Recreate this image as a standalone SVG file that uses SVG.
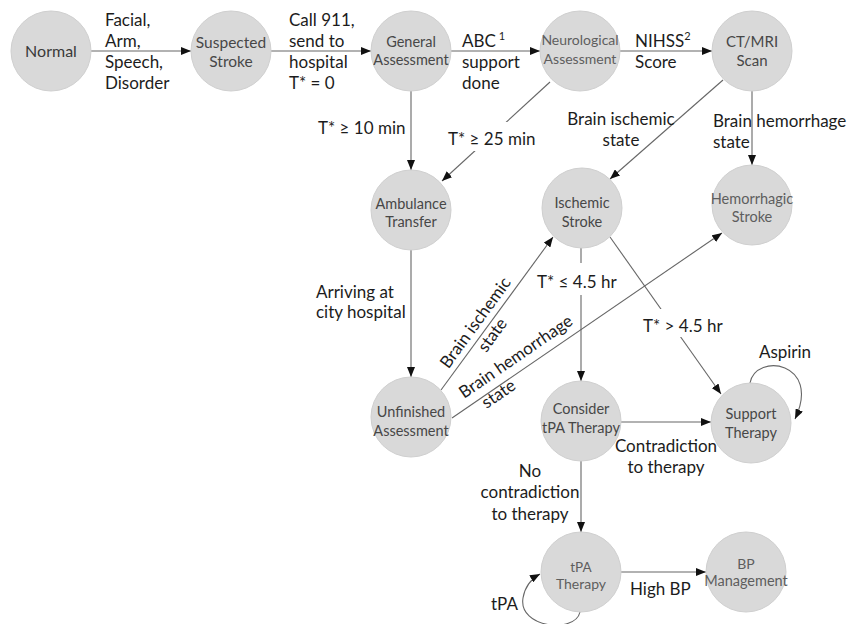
<svg xmlns="http://www.w3.org/2000/svg" width="859" height="624" viewBox="0 0 859 624">
  <style>
    .node circle { fill: #d9d9d9; stroke: #cfcfcf; stroke-width: 1; }
    .node text { font-family: Lato, "Liberation Sans", sans-serif; font-size: 14.5px; fill: #474747; text-anchor: middle; }
    .node text.light { fill: #5e5e5e; }
    .edge { fill: none; stroke: #666; stroke-width: 1.1; marker-end: url(#arrow); }
    .lbl { font-family: Lato, "Liberation Sans", sans-serif; font-size: 17px; fill: #1c1c1c; }
    .mid { text-anchor: middle; }
    .bg { fill: #fff; }
    .sup { font-size: 11px; }
  </style>
  <defs>
    <marker id="arrow" viewBox="0 0 10 8" refX="10" refY="4" markerWidth="10" markerHeight="8" markerUnits="userSpaceOnUse" orient="auto">
      <path d="M0,0 L10,4 L0,8 z" fill="#111"/>
    </marker>
  </defs>
  <rect width="859" height="624" fill="#fff"/>

  <!-- connectors -->
  <g id="connectors">
    <line class="edge" x1="91" y1="51" x2="191" y2="51"/>
    <line class="edge" x1="271" y1="51" x2="371" y2="51"/>
    <line class="edge" x1="451" y1="51" x2="540" y2="51"/>
    <line class="edge" x1="620" y1="51" x2="712" y2="51"/>
    <line class="edge" x1="411" y1="91" x2="411" y2="170"/>
    <line class="edge" x1="550" y1="82" x2="442" y2="181"/>
    <line class="edge" x1="723" y1="80" x2="610" y2="179"/>
    <line class="edge" x1="752" y1="91" x2="752" y2="165"/>
    <line class="edge" x1="411" y1="250" x2="411" y2="377"/>
    <line class="edge" x1="441" y1="390" x2="553" y2="237"/>
    <line class="edge" x1="452" y1="418" x2="722" y2="233"/>
    <line class="edge" x1="581" y1="248" x2="581" y2="381"/>
    <line class="edge" x1="610" y1="237" x2="721" y2="394"/>
    <line class="edge" x1="621" y1="422" x2="711" y2="422"/>
    <line class="edge" x1="581" y1="461" x2="581" y2="532"/>
    <line class="edge" x1="621" y1="572" x2="706" y2="572"/>
    <path class="edge" d="M750,383 C756,352 822,362 795,419"/>
    <path class="edge" d="M580,612 C575,634 518,628 523,598 C525,586 531,579 540,574"/>
  </g>

  <!-- connector labels -->
  <g id="labels">
    <text class="lbl" x="105" y="26">Facial,</text>
    <text class="lbl" x="105" y="47">Arm,</text>
    <text class="lbl" x="105" y="68">Speech,</text>
    <text class="lbl" x="105" y="89">Disorder</text>

    <text class="lbl" x="289" y="26">Call 911,</text>
    <text class="lbl" x="289" y="47">send to</text>
    <text class="lbl" x="289" y="68">hospital</text>
    <text class="lbl" x="289" y="89">T* = 0</text>

    <text class="lbl" x="462" y="47">ABC<tspan class="sup" dx="3" dy="-7">1</tspan></text>
    <text class="lbl" x="462" y="68">support</text>
    <text class="lbl" x="462" y="89">done</text>

    <text class="lbl" x="635" y="47">NIHSS<tspan class="sup" dy="-7">2</tspan></text>
    <text class="lbl" x="635" y="68">Score</text>

    <text class="lbl" x="318" y="134">T* ≥ 10 min</text>

    <rect class="bg" x="445" y="122" width="92" height="29"/>
    <text class="lbl" x="448" y="145">T* ≥ 25 min</text>

    <text class="lbl mid" x="621" y="125">Brain ischemic</text>
    <text class="lbl mid" x="621" y="146">state</text>

    <text class="lbl" x="713" y="127">Brain hemorrhage</text>
    <text class="lbl" x="713" y="148">state</text>

    <text class="lbl" x="316" y="298">Arriving at</text>
    <text class="lbl" x="316" y="318">city hospital</text>

    <g transform="translate(480,326) rotate(-54)">
      <text class="lbl mid" x="0" y="0">Brain ischemic</text>
      <text class="lbl mid" x="0" y="21">state</text>
    </g>

    <g transform="translate(464,399) rotate(-34.4)">
      <text class="lbl" x="0" y="0">Brain hemorrhage</text>
      <text class="lbl" x="13" y="21">state</text>
    </g>

    <rect class="bg" x="535" y="263" width="80" height="32"/>
    <text class="lbl" x="537" y="288">T* ≤ 4.5 hr</text>

    <rect class="bg" x="641" y="309" width="83" height="28"/>
    <text class="lbl" x="643" y="332">T* &gt; 4.5 hr</text>

    <text class="lbl mid" x="785" y="358">Aspirin</text>

    <text class="lbl mid" x="666" y="452">Contradiction</text>
    <text class="lbl mid" x="666" y="473">to therapy</text>

    <text class="lbl mid" x="530" y="477">No</text>
    <text class="lbl mid" x="530" y="498">contradiction</text>
    <text class="lbl mid" x="530" y="520">to therapy</text>

    <text class="lbl" x="630" y="595">High BP</text>
    <text class="lbl" x="491" y="610">tPA</text>
  </g>

  <!-- nodes -->
  <g id="normal" class="node">
    <circle cx="51" cy="51" r="40"/>
    <text x="51" y="57" style="font-size:16px;fill:#3a3a3a">Normal</text>
  </g>
  <g id="suspected-stroke" class="node">
    <circle cx="231" cy="51" r="40"/>
    <text x="231" y="48" style="font-size:15.5px">Suspected</text>
    <text x="231" y="67" style="font-size:15.5px">Stroke</text>
  </g>
  <g id="general-assessment" class="node">
    <circle cx="411" cy="51" r="40"/>
    <text x="411" y="47">General</text>
    <text x="411" y="65">Assessment</text>
  </g>
  <g id="neurological-assessment" class="node">
    <circle cx="580" cy="51" r="40"/>
    <text class="light" x="580" y="45" style="font-size:14px">Neurological</text>
    <text class="light" x="580" y="64" style="font-size:14px">Assessment</text>
  </g>
  <g id="ct-mri-scan" class="node">
    <circle cx="752" cy="51" r="40"/>
    <text x="752" y="47" style="font-size:15px">CT/MRI</text>
    <text x="752" y="66" style="font-size:15px">Scan</text>
  </g>
  <g id="ambulance-transfer" class="node">
    <circle cx="411" cy="210" r="40"/>
    <text x="411" y="209">Ambulance</text>
    <text x="411" y="227">Transfer</text>
  </g>
  <g id="ischemic-stroke" class="node">
    <circle cx="582" cy="208" r="40"/>
    <text x="582" y="208">Ischemic</text>
    <text x="582" y="227">Stroke</text>
  </g>
  <g id="hemorrhagic-stroke" class="node">
    <circle cx="752" cy="205" r="40"/>
    <text class="light" x="752" y="204">Hemorrhagic</text>
    <text class="light" x="752" y="222">Stroke</text>
  </g>
  <g id="unfinished-assessment" class="node">
    <circle cx="411" cy="417" r="40"/>
    <text x="411" y="417">Unfinished</text>
    <text x="411" y="436">Assessment</text>
  </g>
  <g id="consider-tpa-therapy" class="node">
    <circle cx="581" cy="421" r="40"/>
    <text x="581" y="414">Consider</text>
    <text x="581" y="433">tPA Therapy</text>
  </g>
  <g id="support-therapy" class="node">
    <circle cx="751" cy="423" r="40"/>
    <text x="751" y="419">Support</text>
    <text x="751" y="438">Therapy</text>
  </g>
  <g id="tpa-therapy" class="node">
    <circle cx="581" cy="572" r="40"/>
    <text class="light" x="581" y="572" style="font-size:13.5px">tPA</text>
    <text class="light" x="581" y="589" style="font-size:14px">Therapy</text>
  </g>
  <g id="bp-management" class="node">
    <circle cx="746" cy="572" r="40"/>
    <text class="light" x="746" y="569" style="font-size:14px">BP</text>
    <text class="light" x="746" y="586">Management</text>
  </g>
</svg>
